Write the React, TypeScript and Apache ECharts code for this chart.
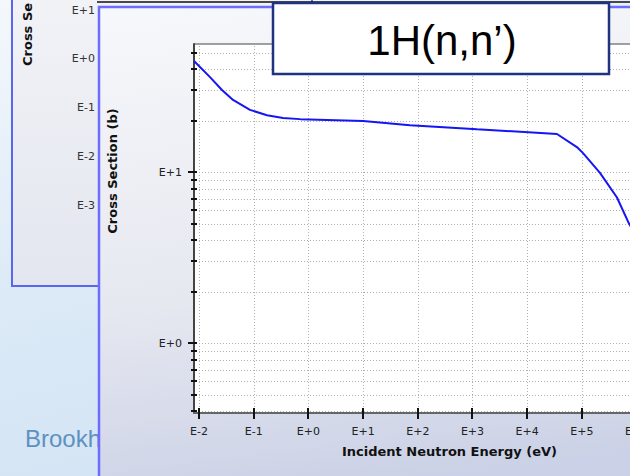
import React, { useEffect, useRef } from 'react';
import * as echarts from 'echarts';

// ---- data ----
const energyEV = [0.0081, 0.0159, 0.0263, 0.0419, 0.0855, 0.175, 0.343, 0.703, 10, 72, 1208, 35000, 81000, 105000, 214000, 438000, 726000, 2000000];
const crossSectionB = [44.6, 35.9, 30.2, 26.4, 23.1, 21.5, 20.7, 20.4, 19.9, 18.8, 17.8, 16.7, 14.0, 12.9, 9.9, 7.1, 5.0, 2.9];
const xMajorTicks = [1e-2, 1e-1, 1, 10, 100, 1e3, 1e4, 1e5, 1e6];
const yMajorTicks = [1, 10];
const yMinorTicks = [0.4, 0.5, 0.6, 0.7, 0.8, 0.9, 2, 3, 4, 5, 6, 7, 8, 9, 20, 30, 40, 50];
const backPanelLabels = ['E+1', 'E+0', 'E-1', 'E-2', 'E-3'];
const backPanelTitle = 'Cross Se';
const titleText = '1H(n,n\u2019)';
const xAxisTitle = 'Incident Neutron Energy (eV)';
const yAxisTitle = 'Cross Section (b)';
const footerText = 'Brookhaven';

const expLabel = (v: number) => {
  const e = Math.round(Math.log10(v));
  return 'E' + (e >= 0 ? '+' : '') + e;
};

const LABEL_FONT = 'DejaVu Sans';
const CANVAS_W = 700;

function buildOption(): any {
  const graphic: any[] = [
    {
      type: 'rect', z: 0, silent: true,
      shape: { x: 0, y: 0, width: CANVAS_W, height: 476 },
      style: {
        fill: new echarts.graphic.LinearGradient(0, 0, 0.35, 1, [
          { offset: 0, color: '#f4f8fc' },
          { offset: 0.55, color: '#dceaf7' },
          { offset: 1, color: '#d3e4f4' },
        ]),
      },
    },
    {
      type: 'text', z: 1, silent: true, x: 25, y: 438,
      style: { text: footerText, fontSize: 24, fontFamily: 'Liberation Sans', fill: '#5d91c1', verticalAlign: 'middle', align: 'left' },
    },
    {
      type: 'rect', z: 1, silent: true,
      shape: { x: 12, y: -10, width: 300, height: 296 },
      style: {
        fill: new echarts.graphic.LinearGradient(0, 0, 0, 1, [
          { offset: 0, color: '#f2f3f7' },
          { offset: 1, color: '#e3e6ef' },
        ]),
        stroke: '#5a66ee', lineWidth: 2,
      },
    },
    ...backPanelLabels.map((t, i) => ({
      type: 'text', z: 2, silent: true, x: 95, y: 10 + i * 48.8,
      style: { text: t, fontSize: 11, fontFamily: LABEL_FONT, fill: '#333', align: 'right', verticalAlign: 'middle' },
    })),
    {
      type: 'text', z: 2, silent: true, x: 27, y: 66, rotation: Math.PI / 2,
      style: { text: backPanelTitle, fontSize: 13, fontWeight: 'bold', fontFamily: LABEL_FONT, fill: '#111', align: 'left', verticalAlign: 'middle' },
    },
    {
      type: 'line', z: 2, silent: true,
      shape: { x1: 97, y1: 2, x2: CANVAS_W, y2: 2 },
      style: { stroke: '#111', lineWidth: 1.5 },
    },
    {
      type: 'rect', z: 3, silent: true,
      shape: { x: 99, y: 7, width: 620, height: 500 },
      style: {
        fill: new echarts.graphic.LinearGradient(0, 0, 0.15, 1, [
          { offset: 0, color: '#f7f8fb' },
          { offset: 0.6, color: '#e6e8f0' },
          { offset: 1, color: '#cbd1e6' },
        ]),
        stroke: '#6c6cff', lineWidth: 2.5,
      },
    },
    {
      type: 'text', z: 5, silent: true, x: 112, y: 171, rotation: Math.PI / 2,
      style: { text: yAxisTitle, fontSize: 13, fontWeight: 'bold', fontFamily: LABEL_FONT, fill: '#111', align: 'center', verticalAlign: 'middle' },
    },
    {
      type: 'text', z: 5, silent: true, x: 449.5, y: 451,
      style: { text: xAxisTitle, fontSize: 13, fontWeight: 'bold', fontFamily: LABEL_FONT, fill: '#111', align: 'center', verticalAlign: 'middle' },
    },
    {
      type: 'rect', z: 20, silent: true,
      shape: { x: 273, y: 3, width: 336, height: 71 },
      style: { fill: '#ffffff', stroke: '#1e3480', lineWidth: 2.5 },
    },
    {
      type: 'text', z: 21, silent: true, x: 442, y: 40,
      style: { text: titleText, fontSize: 42, fontFamily: 'Liberation Sans', fill: '#000', align: 'center', verticalAlign: 'middle' },
    },
  ];

  const dotted = { stroke: '#b0b0b0', lineWidth: 1, lineDash: [1, 2] };

  return {
    animation: false,
    graphic: { elements: graphic },
    grid: {
      left: 194, top: 44, width: 470, height: 369,
      show: true, backgroundColor: '#ffffff', borderColor: '#444', borderWidth: 1, z: 10,
    },
    xAxis: {
      type: 'log', logBase: 10, min: 0.0081, max: 3170000, splitNumber: 10, z: 11,
      axisLine: { show: true, onZero: false, lineStyle: { color: '#666', width: 2 } },
      axisTick: { show: false },
      splitLine: { show: false },
      axisLabel: {
        formatter: expLabel, color: '#222', fontSize: 11, fontFamily: LABEL_FONT,
        margin: 13, showMinLabel: false, showMaxLabel: false,
      },
    },
    yAxis: {
      type: 'log', logBase: 10, min: 0.39, max: 56.1, z: 11,
      axisLine: { show: true, onZero: false, lineStyle: { color: '#444', width: 2 } },
      axisTick: { show: false },
      splitLine: { show: false },
      axisLabel: {
        formatter: expLabel, color: '#222', fontSize: 11, fontFamily: LABEL_FONT,
        margin: 12, showMinLabel: false, showMaxLabel: false,
      },
    },
    series: [
      {
        type: 'custom', name: 'hgrid', z: 12, silent: true,
        data: [...yMinorTicks, ...yMajorTicks].map((v) => [1, v]),
        renderItem: (params: any, api: any) => {
          const cs = params.coordSys;
          const p = api.coord([api.value(0), api.value(1)]);
          const y = Math.round(p[1]) + 0.5;
          return { type: 'line', shape: { x1: cs.x + 2, y1: y, x2: cs.x + cs.width, y2: y }, style: dotted };
        },
      },
      {
        type: 'custom', name: 'vgrid', z: 12, silent: true,
        data: xMajorTicks.map((v) => [v, 1]),
        renderItem: (params: any, api: any) => {
          const cs = params.coordSys;
          const p = api.coord([api.value(0), api.value(1)]);
          const x = Math.round(p[0]) + 0.5;
          return { type: 'line', shape: { x1: x, y1: cs.y + 2, x2: x, y2: cs.y + cs.height }, style: dotted };
        },
      },
      {
        type: 'custom', name: 'yticks', z: 14, silent: true,
        data: [...yMinorTicks.map((v) => [1, v, 0]), ...yMajorTicks.map((v) => [1, v, 1])],
        renderItem: (params: any, api: any) => {
          const cs = params.coordSys;
          const p = api.coord([api.value(0), api.value(1)]);
          const major = api.value(2) === 1;
          const y = Math.round(p[1]);
          return {
            type: 'line',
            shape: { x1: cs.x - (major ? 6 : 3), y1: y, x2: cs.x + 3, y2: y },
            style: { stroke: '#111', lineWidth: 2 },
          };
        },
      },
      {
        type: 'custom', name: 'xticks', z: 14, silent: true,
        data: xMajorTicks.map((v) => [v, 1]),
        renderItem: (params: any, api: any) => {
          const cs = params.coordSys;
          const p = api.coord([api.value(0), api.value(1)]);
          const x = Math.round(p[0]);
          const yb = cs.y + cs.height;
          return {
            type: 'line',
            shape: { x1: x, y1: yb - 5, x2: x, y2: yb + 6 },
            style: { stroke: '#111', lineWidth: 2 },
          };
        },
      },
      {
        type: 'line', name: '1H(n,n)', z: 13, clip: true,
        data: energyEV.map((e, i) => [e, crossSectionB[i]]),
        showSymbol: false, symbol: 'none',
        lineStyle: { color: '#1515f5', width: 2 },
      },
    ],
  };
}

export default function App() {
  const ref = useRef<HTMLDivElement>(null);
  useEffect(() => {
    if (!ref.current) return;
    const chart = echarts.init(ref.current, null, { renderer: 'svg' });
    chart.setOption(buildOption());
    return () => chart.dispose();
  }, []);
  return (
    <div style={{ position: 'absolute', left: 0, top: 0, width: 630, height: 476, overflow: 'hidden' }}>
      <div ref={ref} style={{ width: CANVAS_W, height: 476 }} />
    </div>
  );
}
